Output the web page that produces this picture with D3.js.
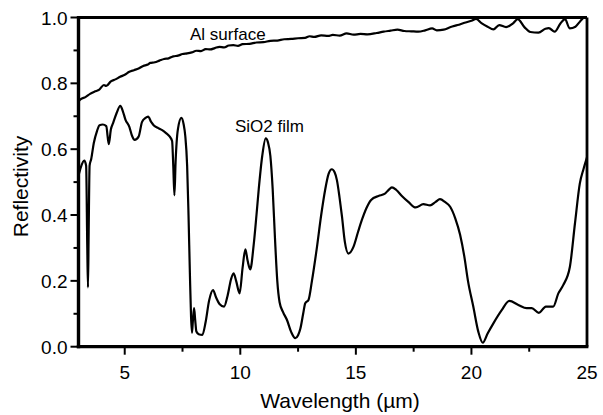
<!DOCTYPE html>
<html>
<head>
<meta charset="utf-8">
<script src="https://cdn.jsdelivr.net/npm/d3@7"></script>
<style>
  body { margin: 0; background: #fff; }
  svg text { font-family: "Liberation Sans", Arial, sans-serif; fill: #000; }
</style>
</head>
<body>
<svg id="chart" width="603" height="415"></svg>
<script>
// Al surface reflectivity (wavelength in um, reflectivity)
const alWave = [3.0, 3.1, 3.3, 3.5, 3.7, 3.9, 4.1, 4.2, 4.4, 4.6, 4.8, 5.0, 5.2, 5.4, 5.6, 5.8, 6.0, 6.1, 6.3, 6.5,
  6.7, 6.9, 7.1, 7.3, 7.5, 7.7, 7.9, 8.1, 8.3, 8.5, 8.7, 8.9, 9.1, 9.3, 9.5, 9.7, 9.9, 10.1, 10.4, 10.7,
  11.0, 11.3, 11.6, 11.9, 12.2, 12.5, 12.8, 13.0, 13.2, 13.5, 13.8, 14.0, 14.3, 14.6, 14.9, 15.2, 15.5, 15.9, 16.2, 16.5,
  16.8, 17.1, 17.4, 17.7, 18.0, 18.3, 18.5, 18.8, 19.1, 19.4, 19.7, 20.0, 20.2, 20.45, 20.7, 20.95, 21.2, 21.5, 21.8, 22.0,
  22.3, 22.55, 22.9, 23.2, 23.35, 23.6, 23.85, 24.05, 24.25, 24.5, 24.7, 24.9, 25.0];
const alRefl = [0.745, 0.752, 0.758, 0.768, 0.775, 0.781, 0.795, 0.792, 0.806, 0.812, 0.820, 0.826, 0.835, 0.840, 0.845, 0.853, 0.857, 0.862, 0.864, 0.869,
  0.874, 0.876, 0.882, 0.884, 0.889, 0.891, 0.894, 0.899, 0.898, 0.904, 0.903, 0.907, 0.911, 0.909, 0.915, 0.916, 0.914, 0.919, 0.920, 0.924,
  0.925, 0.929, 0.930, 0.934, 0.935, 0.937, 0.938, 0.943, 0.941, 0.946, 0.944, 0.947, 0.945, 0.952, 0.948, 0.950, 0.949, 0.953, 0.957, 0.960,
  0.963, 0.959, 0.958, 0.957, 0.961, 0.967, 0.961, 0.963, 0.971, 0.977, 0.984, 0.990, 0.996, 0.982, 0.972, 0.964, 0.977, 0.971, 0.982, 0.995,
  0.970, 0.956, 0.954, 0.966, 0.968, 0.957, 0.982, 0.995, 0.967, 0.972, 0.988, 1.0, 1.0];

// SiO2 film reflectivity
const sioWave = [3.0, 3.1, 3.25, 3.33, 3.38, 3.41, 3.44, 3.48, 3.55, 3.66, 3.8, 3.91, 4.05, 4.2, 4.31, 4.4, 4.5, 4.65, 4.81, 4.92,
  5.03, 5.2, 5.32, 5.43, 5.6, 5.75, 5.9, 6.01, 6.15, 6.25, 6.45, 6.62, 6.8, 6.95, 7.05, 7.1, 7.15, 7.2, 7.3, 7.45,
  7.55, 7.62, 7.7, 7.76, 7.82, 7.87, 7.91, 7.95, 8.0, 8.05, 8.1, 8.2, 8.36, 8.5, 8.65, 8.82, 8.95, 9.1, 9.3, 9.45,
  9.6, 9.71, 9.82, 9.97, 10.1, 10.22, 10.32, 10.43, 10.58, 10.7, 10.8, 10.95, 11.1, 11.2, 11.3, 11.4, 11.5, 11.6, 11.7, 11.85,
  12.02, 12.2, 12.38, 12.5, 12.6, 12.72, 12.81, 12.95, 13.1, 13.3, 13.5, 13.67, 13.82, 13.96, 14.08, 14.18, 14.3, 14.4, 14.52, 14.68,
  14.9, 15.1, 15.26, 15.45, 15.66, 15.98, 16.24, 16.4, 16.56, 16.75, 16.99, 17.27, 17.59, 17.92, 18.21, 18.45, 18.64, 18.85, 19.08, 19.3,
  19.51, 19.69, 19.85, 20.08, 20.3, 20.49, 20.7, 20.95, 21.31, 21.64, 22.03, 22.39, 22.61, 22.92, 23.22, 23.54, 23.76, 23.97, 24.26, 24.48,
  24.69, 24.85, 25.0];
const sioRefl = [0.52, 0.545, 0.565, 0.55, 0.30, 0.18, 0.35, 0.55, 0.57, 0.618, 0.655, 0.673, 0.675, 0.67, 0.615, 0.66, 0.68, 0.71, 0.732, 0.715,
  0.69, 0.668, 0.64, 0.628, 0.638, 0.683, 0.695, 0.699, 0.682, 0.673, 0.664, 0.658, 0.648, 0.638, 0.625, 0.55, 0.46, 0.56, 0.66, 0.695,
  0.675, 0.64, 0.55, 0.40, 0.22, 0.09, 0.042, 0.08, 0.117, 0.08, 0.046, 0.038, 0.036, 0.075, 0.14, 0.172, 0.15, 0.13, 0.122, 0.155,
  0.205, 0.223, 0.2, 0.162, 0.24, 0.296, 0.26, 0.235, 0.31, 0.40, 0.48, 0.58, 0.633, 0.62, 0.58, 0.48, 0.33, 0.2, 0.135, 0.105,
  0.081, 0.045, 0.026, 0.035, 0.055, 0.1, 0.132, 0.142, 0.2, 0.294, 0.40, 0.476, 0.525, 0.539, 0.53, 0.506, 0.45, 0.395, 0.32, 0.283,
  0.304, 0.35, 0.385, 0.42, 0.446, 0.458, 0.464, 0.475, 0.484, 0.476, 0.458, 0.44, 0.423, 0.433, 0.429, 0.44, 0.448, 0.44, 0.425, 0.39,
  0.34, 0.275, 0.20, 0.122, 0.045, 0.012, 0.04, 0.071, 0.111, 0.139, 0.127, 0.117, 0.117, 0.103, 0.122, 0.122, 0.162, 0.187, 0.243, 0.375,
  0.496, 0.54, 0.575];

const xTicks = [5, 10, 15, 20];
const xMinor = [7.5, 12.5, 17.5, 22.5];
const xLabels = [5, 10, 15, 20, 25];
const yTicks = [0, 0.2, 0.4, 0.6, 0.8, 1.0];
const yMinor = [0.1, 0.3, 0.5, 0.7, 0.9];

const svg = d3.select('#chart');
const x = d3.scaleLinear().domain([3, 25]).range([78.5, 587]);
const y = d3.scaleLinear().domain([0, 1]).range([346.7, 17.5]);
const x0 = x(3), x1 = x(25), yb = y(0), yt = y(1);

// frame: bottom and left heavier
const frame = svg.append('g').attr('fill', 'none').attr('stroke', '#000');
frame.append('line').attr('x1', x0).attr('x2', x1).attr('y1', yt).attr('y2', yt).attr('stroke-width', 2.8);
frame.append('line').attr('x1', x1).attr('x2', x1).attr('y1', yt).attr('y2', yb).attr('stroke-width', 2.8);
frame.append('line').attr('x1', x0).attr('x2', x0).attr('y1', yt - 1.4).attr('y2', yb + 1.6).attr('stroke-width', 3.4);
frame.append('line').attr('x1', x0 - 1.7).attr('x2', x1 + 1.4).attr('y1', yb).attr('y2', yb).attr('stroke-width', 3.3);

// ticks
const ticks = svg.append('g').attr('stroke', '#000').attr('stroke-width', 2);
ticks.selectAll('line.xmaj').data(xTicks).join('line').attr('class', 'xmaj')
  .attr('x1', d => x(d)).attr('x2', d => x(d)).attr('y1', yb).attr('y2', yb + 8);
ticks.selectAll('line.xmin').data(xMinor).join('line').attr('class', 'xmin')
  .attr('x1', d => x(d)).attr('x2', d => x(d)).attr('y1', yb).attr('y2', yb + 5);
ticks.selectAll('line.ymaj').data(yTicks).join('line').attr('class', 'ymaj')
  .attr('x1', x0 - 8).attr('x2', x0).attr('y1', d => y(d)).attr('y2', d => y(d));
ticks.selectAll('line.ymin').data(yMinor).join('line').attr('class', 'ymin')
  .attr('x1', x0 - 5).attr('x2', x0).attr('y1', d => y(d)).attr('y2', d => y(d));

// tick labels
svg.append('g').selectAll('text').data(xLabels).join('text')
  .attr('x', d => x(d)).attr('y', yb + 32).attr('text-anchor', 'middle').attr('font-size', 19)
  .text(d => d3.format('d')(d));
svg.append('g').selectAll('text').data(yTicks).join('text')
  .attr('x', x0 - 11).attr('y', d => y(d) + 7).attr('text-anchor', 'end').attr('font-size', 19)
  .text(d => d3.format('.1f')(d));

const line = d3.line().x(d => x(d[0])).y(d => y(d[1])).curve(d3.curveMonotoneX);

svg.append('path').datum(d3.zip(alWave, alRefl))
  .attr('d', line).attr('fill', 'none').attr('stroke', '#000').attr('stroke-width', 2.2);
svg.append('path').datum(d3.zip(sioWave, sioRefl))
  .attr('d', line).attr('fill', 'none').attr('stroke', '#000').attr('stroke-width', 2.2);

// labels
svg.append('text').attr('x', 190).attr('y', 40).attr('font-size', 17).text('Al surface');
svg.append('text').attr('x', 235).attr('y', 132).attr('font-size', 17).text('SiO2 film');

svg.append('text').attr('x', 340).attr('y', 408).attr('text-anchor', 'middle').attr('font-size', 21)
  .text('Wavelength (\u00b5m)');
svg.append('text').attr('transform', 'translate(28,186.5) rotate(-90)')
  .attr('text-anchor', 'middle').attr('font-size', 21).text('Reflectivity');
</script>
</body>
</html>
